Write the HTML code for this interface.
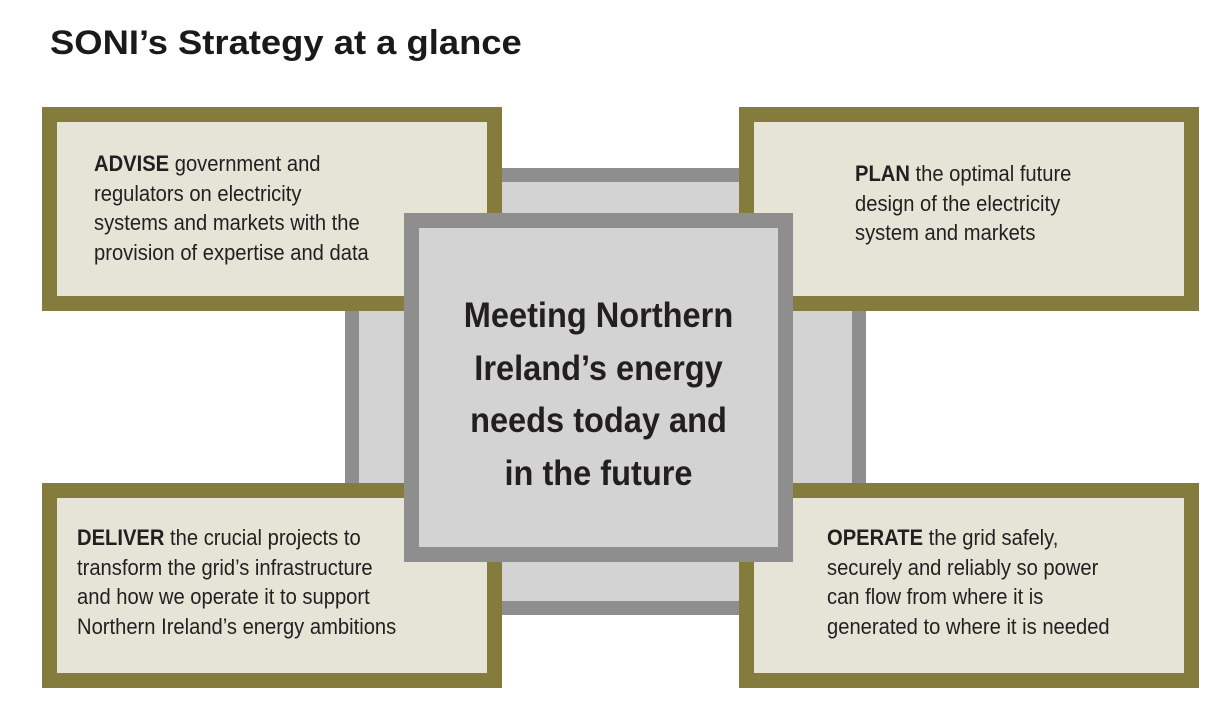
<!DOCTYPE html>
<html><head><meta charset="utf-8"><style>
html,body{margin:0;padding:0;background:#fff;}
body{width:1230px;height:718px;position:relative;overflow:hidden;font-family:"Liberation Sans",sans-serif;color:#231f20;}
.abs{position:absolute;box-sizing:border-box;}
.ol{border:15px solid #847c3d;background:#e6e4d7;}
.gr{border:14px solid #8e8e8e;background:#d3d3d3;}
.t{position:absolute;white-space:nowrap;font-size:22px;line-height:29.5px;transform:scaleX(.917);transform-origin:0 0;}
.t b{font-weight:bold;}
.c{position:absolute;left:404px;width:389px;top:290px;text-align:center;white-space:nowrap;font-weight:bold;font-size:35px;line-height:52.5px;transform:scaleX(.93);transform-origin:50% 0;}
h1{position:absolute;left:50px;top:24px;margin:0;font-size:34px;font-weight:bold;white-space:nowrap;color:#1a1a1a;transform:scaleX(1.07);transform-origin:0 0;}
</style></head><body>
<h1>SONI’s Strategy at a glance</h1>
<div class="abs gr" style="left:345px;top:168px;width:521px;height:447px;"></div>
<div class="abs ol" style="left:42px;top:107px;width:460px;height:204px;"></div>
<div class="abs ol" style="left:739px;top:107px;width:460px;height:204px;"></div>
<div class="abs ol" style="left:42px;top:483px;width:460px;height:205px;"></div>
<div class="abs ol" style="left:739px;top:483px;width:460px;height:205px;"></div>
<div class="abs gr" style="left:404px;top:213px;width:389px;height:349px;border-width:15px;"></div>
<div class="t" style="left:94px;top:149px;"><b>ADVISE</b> government and<br>regulators on electricity<br>systems and markets with the<br>provision of expertise and data</div>
<div class="t" style="left:855px;top:159px;"><b>PLAN</b> the optimal future<br>design of the electricity<br>system and markets</div>
<div class="t" style="left:77px;top:523px;"><b>DELIVER</b> the crucial projects to<br>transform the grid’s infrastructure<br>and how we operate it to support<br>Northern Ireland’s energy ambitions</div>
<div class="t" style="left:827px;top:523px;"><b>OPERATE</b> the grid safely,<br>securely and reliably so power<br>can flow from where it is<br>generated to where it is needed</div>
<div class="c">Meeting Northern<br>Ireland’s energy<br>needs today and<br>in the future</div>
</body></html>
